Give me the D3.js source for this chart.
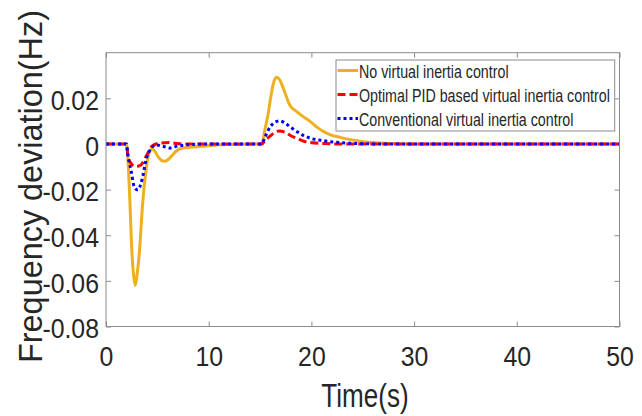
<!DOCTYPE html>
<html>
<head>
<meta charset="utf-8">
<script src="https://cdn.jsdelivr.net/npm/d3@7"></script>
<style>
    body { margin: 0; background: #fff; }
    text { font-family: "Liberation Sans", Arial, sans-serif; fill: #262626; }
</style>
</head>
<body>
<svg id="chart"></svg>
<script>
// Time axis (s) and frequency deviation (Hz), one pair per series
const timeNoVI = [0, 2, 2.27, 2.53, 2.7, 2.85, 3.0, 3.24, 3.57, 3.9, 4.2, 4.5, 4.8, 5.1, 5.4, 5.7, 6.0, 6.4, 6.8, 7.3, 8, 9.7, 11.7, 15.15,
    15.5, 15.8, 16.0, 16.3, 16.6, 16.9, 17.3, 17.9, 18.6, 19.2, 19.9, 20.5, 21.2, 22.0, 22.8, 24.4, 26, 28, 30, 50];
const freqNoVI = [0, 0, -0.019, -0.048, -0.058, -0.062, -0.058, -0.048, -0.026, -0.0114, -0.004, -0.0022, -0.0035, -0.0058, -0.0072, -0.0076, -0.0070, -0.0052, -0.0033, -0.002, -0.0015, -0.0009, -0.0002, 0,
    0.007, 0.0135, 0.0193, 0.0266, 0.0292, 0.0282, 0.024, 0.017, 0.0141, 0.012, 0.0098, 0.0075, 0.0054, 0.0038, 0.0029, 0.0014, 0.0006, 0.0002, 0, 0];

const timePID = [0, 2, 2.1, 2.43, 2.9, 3.4, 3.9, 4.5, 5.3, 6.1, 7.1, 8, 15.15,
    15.5, 16.0, 16.4, 16.9, 17.4, 18.0, 18.6, 19.2, 19.9, 21.2, 22.5, 50];
const freqPID = [0, 0, -0.004, -0.0085, -0.0099, -0.0092, -0.0055, -0.0009, 0.0004, 0.0006, 0.0001, 0, 0,
    0.0015, 0.0035, 0.0050, 0.0057, 0.0052, 0.0036, 0.0025, 0.0013, 0.0006, 0.0002, 0, 0];

const timeConv = [0, 2, 2.1, 2.43, 2.75, 3.08, 3.5, 3.9, 4.4, 4.87, 5.7, 6.2, 7.0, 8.0, 10, 15.15,
    15.5, 16.0, 16.4, 16.9, 17.4, 18.0, 18.6, 19.2, 19.9, 21.2, 22.8, 25, 27, 50];
const freqConv = [0, 0, -0.004, -0.0114, -0.0187, -0.0201, -0.0158, -0.007, -0.0019, -0.0004, -0.0012, -0.0018, -0.0009, -0.0003, 0, 0,
    0.0032, 0.0076, 0.0094, 0.0101, 0.0093, 0.0072, 0.0054, 0.0038, 0.0025, 0.0014, 0.0006, 0.0001, 0, 0];

const seriesNames = ['No virtual inertia control', 'Optimal PID based virtual inertia control', 'Conventional virtual inertia control'];
const xTicks = [0, 10, 20, 30, 40, 50];
const yTicks = [-0.08, -0.06, -0.04, -0.02, 0, 0.02];

class FreqChart {

    constructor(_config) {
        this.config = {
            parentElement: _config.parentElement,
            containerWidth: 642,
            containerHeight: 416,
            margin: {top: 52.7, right: 22.5, bottom: 89.5, left: 106}
        };
        this.series = [
            {name: seriesNames[0], t: timeNoVI, v: freqNoVI, color: '#EDB120', dash: null},
            {name: seriesNames[1], t: timePID, v: freqPID, color: '#FF0000', dash: '8,4'},
            {name: seriesNames[2], t: timeConv, v: freqConv, color: '#0000FF', dash: '3,3'}
        ];
        this.initVis();
    }

    initVis() {
        let vis = this;
        const m = vis.config.margin;
        vis.width = vis.config.containerWidth - m.left - m.right;
        vis.height = vis.config.containerHeight - m.top - m.bottom;

        vis.svg = d3.select(vis.config.parentElement)
            .attr('width', vis.config.containerWidth)
            .attr('height', vis.config.containerHeight);

        vis.chart = vis.svg.append('g')
            .attr('transform', `translate(${m.left},${m.top})`);

        vis.xScale = d3.scaleLinear().domain([0, 50]).range([0, vis.width]);
        vis.yScale = d3.scaleLinear().domain([-0.08, 0.04]).range([vis.height, 0]);

        vis.renderVis();
    }

    renderVis() {
        let vis = this;
        const axisColor = '#8c8c8c';
        const fmtY = d => d === 0 ? '0' : d3.format('.2f')(d).replace('\u2212', '-');

        // box axes, ticks pointing inward like matlab
        const xBottom = vis.chart.append('g')
            .attr('transform', `translate(0,${vis.height})`)
            .call(d3.axisBottom(vis.xScale).tickValues(xTicks).tickSizeInner(-5).tickSizeOuter(0).tickPadding(0));
        const yLeft = vis.chart.append('g')
            .call(d3.axisLeft(vis.yScale).tickValues(yTicks).tickFormat(fmtY).tickSizeInner(-5).tickSizeOuter(0));
        vis.chart.append('g')
            .call(d3.axisTop(vis.xScale).tickValues(xTicks).tickFormat('').tickSizeInner(-5).tickSizeOuter(0));
        vis.chart.append('g')
            .attr('transform', `translate(${vis.width},0)`)
            .call(d3.axisRight(vis.yScale).tickValues(yTicks).tickFormat('').tickSizeInner(-5).tickSizeOuter(0));

        vis.chart.selectAll('.domain').remove();
        vis.chart.selectAll('.tick line').attr('stroke', axisColor);

        xBottom.selectAll('text')
            .attr('y', 0)
            .attr('dy', '0.71em')
            .attr('transform', 'translate(0,20) scale(0.92,1)')
            .style('font-size', '27px')
            .style('fill', '#262626');
        yLeft.selectAll('text')
            .attr('x', 0)
            .attr('dy', '0.42em')
            .attr('transform', 'translate(-7,0) scale(0.92,1)')
            .style('font-size', '27px')
            .style('fill', '#262626');

        // lines
        const line = d3.line()
            .x(d => vis.xScale(d[0]))
            .y(d => vis.yScale(d[1]))
            .curve(d3.curveMonotoneX);

        vis.chart.selectAll('.series')
            .data(vis.series)
            .enter()
            .append('path')
            .attr('class', 'series')
            .attr('d', s => line(d3.zip(s.t, s.v)))
            .attr('fill', 'none')
            .attr('stroke', s => s.color)
            .attr('stroke-width', 3)
            .attr('stroke-dasharray', s => s.dash);

        vis.chart.append('rect')
            .attr('width', vis.width)
            .attr('height', vis.height)
            .attr('fill', 'none')
            .attr('stroke', axisColor)
            .attr('stroke-width', 1);

        // axis titles
        vis.svg.append('text')
            .attr('transform', 'translate(365,407) scale(0.79,1)')
            .attr('text-anchor', 'middle')
            .style('font-size', '33px')
            .text('Time(s)');

        vis.svg.append('text')
            .attr('transform', 'translate(42,186.5) rotate(-90)')
            .attr('text-anchor', 'middle')
            .attr('textLength', 353)
            .attr('lengthAdjust', 'spacingAndGlyphs')
            .style('font-size', '33px')
            .text('Frequency deviation(Hz)');

        // legend
        const legend = vis.svg.append('g').attr('transform', 'translate(336,60)');
        legend.append('rect')
            .attr('width', 278.7)
            .attr('height', 71)
            .attr('fill', '#fff')
            .attr('stroke', axisColor);

        const rows = legend.selectAll('.legend-row')
            .data(vis.series)
            .enter()
            .append('g')
            .attr('class', 'legend-row')
            .attr('transform', (d, i) => `translate(0,${11.5 + i * 24})`);

        rows.append('line')
            .attr('x1', 1.5).attr('x2', 22)
            .attr('y1', -1).attr('y2', -1)
            .attr('stroke', s => s.color)
            .attr('stroke-width', 3)
            .attr('stroke-dasharray', s => s.dash);

        rows.append('text')
            .attr('transform', 'translate(23,6.5) scale(0.77,1)')
            .style('font-size', '18.5px')
            .text(s => s.name);
    }
}

new FreqChart({parentElement: '#chart'});
</script>
</body>
</html>
